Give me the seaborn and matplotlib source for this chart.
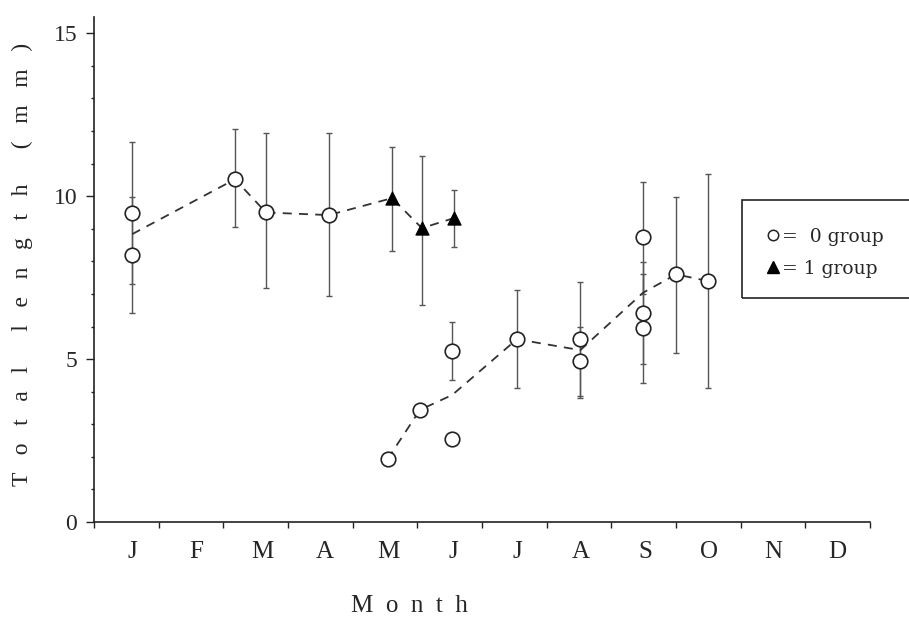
import numpy as np
import pandas as pd
import matplotlib
matplotlib.use("Agg")
import matplotlib.pyplot as plt
from matplotlib.lines import Line2D
from matplotlib.patches import Rectangle
import seaborn as sns

# Sampling positions on a month axis (0 = start of January, 12 = end of December)
month_labels = ["J", "F", "M", "A", "M", "J", "J", "A", "S", "O", "N", "D"]

# Older cohort: 0 group in Jan-Apr, 1 group from May onwards
old_x    = [0.59, 0.59, 2.18, 2.66, 3.63, 4.61, 5.07, 5.57]
old_len  = [9.48, 8.19, 10.52, 9.50, 9.42, 9.94, 9.02, 9.33]
old_lo   = [7.30, 6.41, 9.05, 7.18, 6.93, 8.31, 6.66, 8.44]
old_hi   = [11.66, 9.97, 12.06, 11.94, 11.94, 11.50, 11.23, 10.18]
old_grp  = ["0", "0", "0", "0", "0", "1", "1", "1"]

# New 0 group recruited from May
new_x    = [4.54, 5.04, 5.54, 5.54, 6.54, 7.52, 7.52, 8.49, 8.49, 8.49, 9.00, 9.49]
new_len  = [1.93, 3.44, 5.25, 2.55, 5.61, 5.61, 4.94, 8.75, 6.41, 5.95, 7.60, 7.40]
new_lo   = [np.nan, np.nan, 4.36, np.nan, 4.11, 3.86, 3.80, 7.00, 4.85, 4.26, 5.18, 4.10]
new_hi   = [np.nan, np.nan, 6.13, np.nan, 7.12, 7.36, 6.00, 10.43, 7.98, 7.60, 9.97, 10.67]

old = pd.DataFrame({"month": old_x, "length": old_len, "lo": old_lo, "hi": old_hi,
                    "group": old_grp, "cohort": "old"})
new = pd.DataFrame({"month": new_x, "length": new_len, "lo": new_lo, "hi": new_hi,
                    "group": "0", "cohort": "new"})
df = pd.concat([old, new], ignore_index=True)

sns.set_style("ticks")
plt.rcParams["font.family"] = ["Liberation Serif", "DejaVu Serif"]

fig = plt.figure(figsize=(9.09, 6.23), dpi=100)
ax = fig.add_axes([94 / 909, 1 - 522 / 623, 776 / 909, 505 / 623])

ink = "#222222"
bar_col = "#555555"

# Standard deviation bars
bars = df.dropna(subset=["lo", "hi"])
ax.errorbar(bars["month"], bars["length"],
            yerr=[bars["length"] - bars["lo"], bars["hi"] - bars["length"]],
            fmt="none", ecolor=bar_col, elinewidth=1.0, capsize=2.2, capthick=1.0, zorder=2)

# Dashed lines through the monthly means of each cohort
for name in ["old", "new"]:
    sns.lineplot(data=df[df["cohort"] == name], x="month", y="length",
                 estimator="mean", errorbar=None, sort=True, ax=ax,
                 color="#333333", linewidth=1.3, dashes=False, zorder=3,
                 linestyle=(0, (5, 4)))

# Individual sample means
zero = df[df["group"] == "0"]
one = df[df["group"] == "1"]
sns.scatterplot(data=zero, x="month", y="length", ax=ax, marker="o", s=110,
                facecolor="white", edgecolor=ink, linewidth=1.2, zorder=4, legend=False)
sns.scatterplot(data=one, x="month", y="length", ax=ax, marker="^", s=90,
                color="black", edgecolor="black", linewidth=0.8, zorder=4, legend=False)

# Axes
ax.set_xlim(0, 12)
ax.set_ylim(0, 15.5)
for side in ["top", "right"]:
    ax.spines[side].set_visible(False)
for side in ["left", "bottom"]:
    ax.spines[side].set_linewidth(1.2)
    ax.spines[side].set_color(ink)

# Month boundaries carry the tick marks; letters sit inside each month
label_pos = [0.59, 1.58, 2.60, 3.57, 4.56, 5.55, 6.54, 7.53, 8.52, 9.51, 10.50, 11.50]
ax.set_xticks(np.arange(0, 13))
ax.set_xticklabels([])
ax.set_xticks(label_pos, minor=True)
ax.set_xticklabels(month_labels, minor=True, fontsize=18)
ax.tick_params(axis="x", which="major", direction="out", length=4, width=1, color=ink)
ax.tick_params(axis="x", which="minor", length=0, pad=14)

ax.set_yticks([0, 5, 10, 15])
ax.set_yticklabels(["0", "5", "10", "15"], fontsize=17)
ax.set_yticks(np.arange(0, 16), minor=True)
ax.tick_params(axis="y", which="major", direction="out", length=6, width=1, color=ink, pad=6)
ax.tick_params(axis="y", which="minor", direction="out", length=2.5, width=1, color=ink)

ax.set_xlabel("M  o  n  t  h", fontsize=18)
ax.set_ylabel("T   o   t   a   l      l   e   n   g   t   h      (   m   m   )", fontsize=17)
ax.xaxis.set_label_coords(0.407, -0.145)
ax.yaxis.set_label_coords(-0.078, 0.51)

# Legend in an open-ended box at the right edge
fig.patches.append(Rectangle((742 / 909, 1 - 298 / 623), (930 - 742) / 909, 98 / 623,
                             transform=fig.transFigure, fill=False, edgecolor=ink,
                             linewidth=1.2, clip_on=False))
handles = [Line2D([], [], linestyle="none", marker="o", markersize=7.5,
                  markerfacecolor="white", markeredgecolor=ink, markeredgewidth=1.1),
           Line2D([], [], linestyle="none", marker="^", markersize=9,
                  markerfacecolor="black", markeredgecolor="black")]
fig.legend(handles, ["=  0 group", "= 1 group"], loc="upper left",
           bbox_to_anchor=(758 / 909, 1 - 220 / 623), frameon=False,
           handlelength=0.8, handletextpad=0.1, labelspacing=0.75, borderaxespad=0,
           prop={"family": "DejaVu Serif", "size": 13.5})

fig.savefig("out.png", dpi=100, facecolor="white")
